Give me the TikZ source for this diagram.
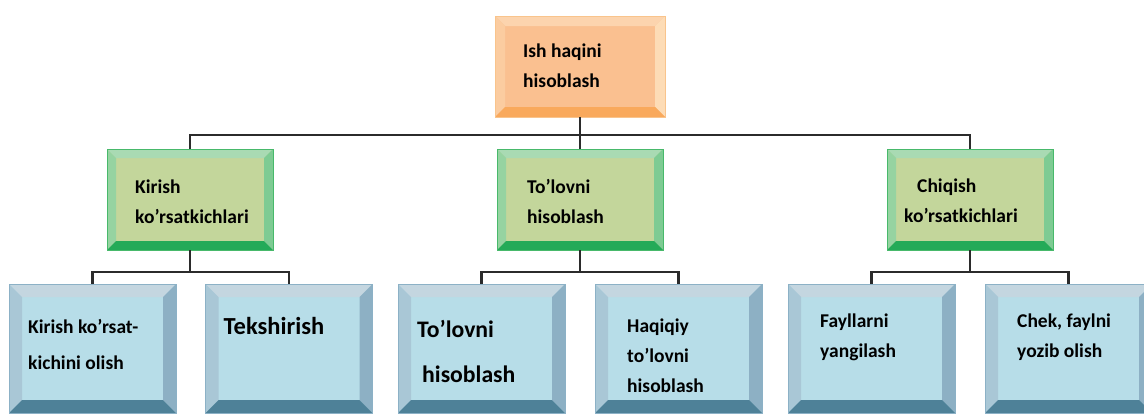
\documentclass[tikz,border=0pt]{standalone}
\usepackage{fontspec}
\setmainfont{Carlito}
\usetikzlibrary{positioning,calc}
\definecolor{peach}{HTML}{FAC090}
\definecolor{peachtop}{HTML}{FCD4AE}
\definecolor{peachleft}{HTML}{FBCCA0}
\definecolor{peachright}{HTML}{FDDCB6}
\definecolor{peachbot}{HTML}{F9A95C}
\definecolor{peachline}{HTML}{F9C48C}
\definecolor{olive}{HTML}{C3D69B}
\definecolor{olivetop}{HTML}{A9DAB3}
\definecolor{oliveleft}{HTML}{96D3A1}
\definecolor{oliveright}{HTML}{7ECB93}
\definecolor{olivebot}{HTML}{24AA58}
\definecolor{oliveline}{HTML}{48B96B}
\definecolor{sky}{HTML}{B7DDE8}
\definecolor{skytop}{HTML}{C4D6E0}
\definecolor{skyleft}{HTML}{A9C7D6}
\definecolor{skyright}{HTML}{8DB0C4}
\definecolor{skybot}{HTML}{4E8198}
\definecolor{skyline}{HTML}{8CB1C6}
\definecolor{ink}{HTML}{2B2B2B}
% bevel: width, top, left, right, bottom
\newcommand\bevel[5]{%
  \fill[#2] (path picture bounding box.north west) -- (path picture bounding box.north east)
    -- ([shift={(-#1pt,-#1pt)}]path picture bounding box.north east)
    -- ([shift={(#1pt,-#1pt)}]path picture bounding box.north west) -- cycle;
  \fill[#3] (path picture bounding box.north west) -- (path picture bounding box.south west)
    -- ([shift={(#1pt,#1pt)}]path picture bounding box.south west)
    -- ([shift={(#1pt,-#1pt)}]path picture bounding box.north west) -- cycle;
  \fill[#4] (path picture bounding box.north east) -- (path picture bounding box.south east)
    -- ([shift={(-#1pt,#1pt)}]path picture bounding box.south east)
    -- ([shift={(-#1pt,-#1pt)}]path picture bounding box.north east) -- cycle;
  \fill[#5] (path picture bounding box.south west) -- (path picture bounding box.south east)
    -- ([shift={(-#1pt,#1pt)}]path picture bounding box.south east)
    -- ([shift={(#1pt,#1pt)}]path picture bounding box.south west) -- cycle;
}
\tikzset{
  crown/.style={draw=peachline,fill=peach,line width=1pt,inner sep=0pt,outer sep=0pt,
    minimum width=170pt,minimum height=101pt,
    path picture={\bevel{10}{peachtop}{peachleft}{peachright}{peachbot}}},
  group/.style={draw=oliveline,fill=olive,line width=1pt,inner sep=0pt,outer sep=0pt,
    minimum width=166pt,minimum height=101pt,
    path picture={\bevel{9}{olivetop}{oliveleft}{oliveright}{olivebot}}},
  task/.style={draw=skyline,fill=sky,line width=1pt,inner sep=0pt,outer sep=0pt,
    minimum width=167pt,minimum height=129pt,
    path picture={\bevel{13}{skytop}{skyleft}{skyright}{skybot}}},
  txt/.style={inner sep=0pt,align=left,text=black,font=\bfseries\fontsize{19.5}{30}\selectfont},
  link/.style={draw=ink,line width=2.5pt},
}
\begin{document}
\begin{tikzpicture}[x=1pt,y=-1pt]
  \useasboundingbox (0,0) rectangle (1144,413);
  % boxes
  \node[crown] (pay) at (580,66.5) {};
  \node[group] (inp) at (190,199.5) {};
  \node[group] (calc) at (580,199.5) {};
  \node[group] (out) at (970,199.5) {};
  \node[task] (read) at (92.5,348.5) {};
  \node[task] (check) at (289,348.5) {};
  \node[task] (sum) at (481.5,348.5) {};
  \node[task] (real) at (678.5,348.5) {};
  \node[task] (files) at (871.5,348.5) {};
  \node[task] (receipt) at (1068.5,348.5) {};
  % connectors
  \foreach \g in {inp,calc,out}
    \draw[link] (pay.south) -- ++(0,18) -| (\g.north);
  \foreach \g/\a/\b in {inp/read/check,calc/sum/real,out/files/receipt}{
    \draw[link] (\g.south) -- ++(0,22) -| (\a.north);
    \draw[link] (\g.south) -- ++(0,22) -| (\b.north);
  }
  % labels
  \node[txt,below right=28pt and 28pt of pay.north west] (payl) {Ish haqini\\hisoblash};
  \node[txt,below right=31pt and 28pt of inp.north west] (inpl) {Kirish\\ko’rsatkichlari};
  \node[txt,below right=30pt and 30pt of calc.north west] (calcl) {To’lovni\\hisoblash};
  \node[txt,below right=30pt and 17pt of out.north west] (outl) {\hspace{13pt}Chiqish\\ko’rsatkichlari};
  \node[txt,font=\bfseries\fontsize{19.5}{36}\selectfont,below right=35pt and 19pt of read.north west] (readl) {Kirish ko’rsat-\\kichini olish};
  \node[txt,font=\bfseries\fontsize{24.5}{36}\selectfont,below right=33pt and 18pt of check.north west] (checkl) {Tekshirish};
  \node[txt,font=\bfseries\fontsize{23.7}{45}\selectfont,below right=36pt and 19pt of sum.north west] (suml) {To’lovni\\\hspace{5pt}hisoblash};
  \node[txt,below right=35pt and 32pt of real.north west] (reall) {Haqiqiy\\to’lovni\\hisoblash};
  \node[txt,below right=30pt and 32pt of files.north west] (filesl) {Fayllarni\\yangilash};
  \node[txt,below right=30pt and 32pt of receipt.north west] (receiptl) {Chek, faylni\\yozib olish};
\end{tikzpicture}
\end{document}
